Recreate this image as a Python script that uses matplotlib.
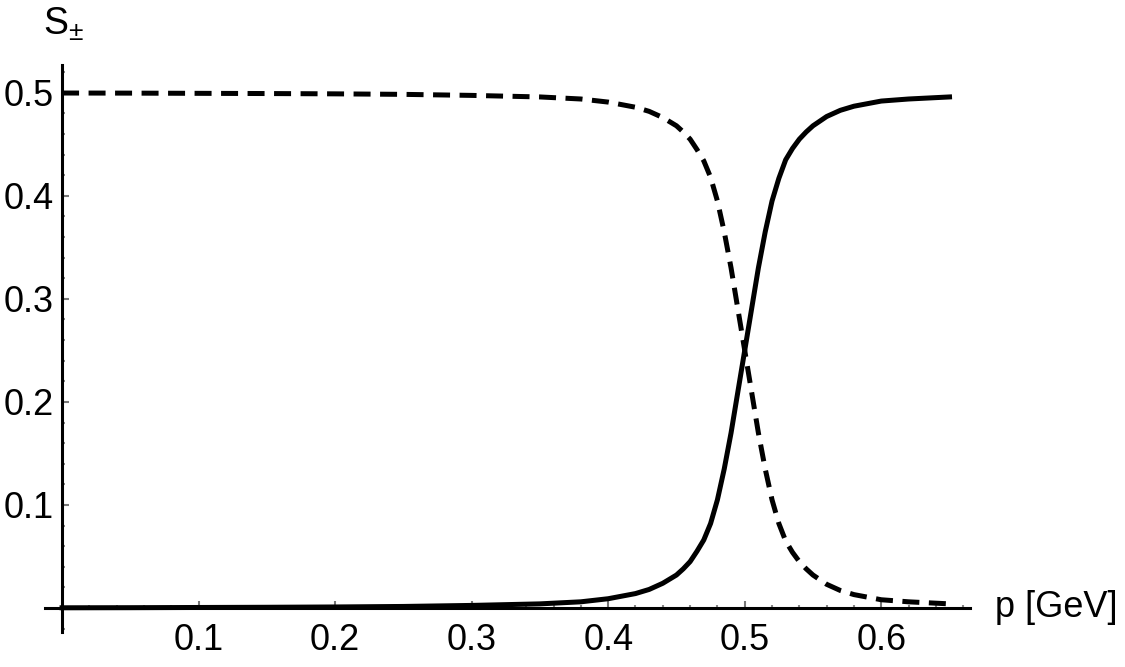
import numpy as np
import matplotlib.pyplot as plt
from matplotlib.ticker import MultipleLocator

plt.rcParams['font.family'] = ['Liberation Sans', 'DejaVu Sans']
plt.rcParams['mathtext.fontset'] = 'custom'
plt.rcParams['mathtext.rm'] = 'Liberation Sans'
plt.rcParams['mathtext.it'] = 'Liberation Sans:italic'

# momentum grid [GeV] and the two curves
p = [0.0, 0.05, 0.1, 0.15, 0.2, 0.25, 0.3, 0.35, 0.38, 0.40, 0.42, 0.43,
     0.44, 0.45, 0.455, 0.46, 0.465, 0.47, 0.475, 0.48, 0.485, 0.49, 0.495,
     0.50, 0.505, 0.51, 0.515, 0.52, 0.525, 0.53, 0.535, 0.54, 0.545, 0.55,
     0.56, 0.57, 0.58, 0.60, 0.62, 0.65]
s_plus = [0.0002, 0.0003, 0.0005, 0.0007, 0.001, 0.0015, 0.0025, 0.004,
          0.006, 0.009, 0.014, 0.018, 0.024, 0.032, 0.038, 0.045, 0.055,
          0.066, 0.082, 0.105, 0.135, 0.17, 0.21, 0.25, 0.29, 0.33, 0.365,
          0.395, 0.417, 0.435, 0.446, 0.455, 0.462, 0.468, 0.477, 0.483,
          0.487, 0.492, 0.494, 0.496]
s_minus = [0.4998, 0.4997, 0.4995, 0.4993, 0.499, 0.4985, 0.4975, 0.496,
           0.494, 0.491, 0.486, 0.482, 0.476, 0.468, 0.462, 0.455, 0.445,
           0.434, 0.418, 0.395, 0.365, 0.33, 0.29, 0.25, 0.21, 0.17, 0.135,
           0.105, 0.082, 0.065, 0.054, 0.045, 0.038, 0.032, 0.023, 0.017,
           0.013, 0.008, 0.006, 0.004]

fig = plt.figure(figsize=(11.25, 6.67), dpi=100)
ax = fig.add_axes([45 / 1125, 1 - 632 / 667, 925 / 1125, 567 / 667])

ax.plot(p, s_plus, color='black', lw=3.6, solid_joinstyle='round')
ax.plot(p, s_minus, color='black', lw=3.6, dashes=(3.4, 1.9))

ax.set_xlim(-0.0125, 0.665)
ax.set_ylim(-0.0233, 0.527)

# axes through the origin, Mathematica style
for side in ['top', 'right']:
    ax.spines[side].set_visible(False)
ax.spines['left'].set_position(('data', 0))
ax.spines['bottom'].set_position(('data', 0))
ax.spines['left'].set_linewidth(2.2)
ax.spines['bottom'].set_linewidth(2.2)

ax.set_xticks([0.1, 0.2, 0.3, 0.4, 0.5, 0.6])
ax.set_yticks([0.1, 0.2, 0.3, 0.4, 0.5])
ax.xaxis.set_minor_locator(MultipleLocator(0.02))
ax.yaxis.set_minor_locator(MultipleLocator(0.02))
ax.tick_params(which='major', direction='in', length=5, width=1.5,
               color='#777777', labelsize=26)
ax.tick_params(which='minor', direction='in', length=2.5, width=1.5,
               color='#888888')
ax.tick_params(axis='x', which='major', pad=11)
ax.tick_params(axis='y', which='major', pad=6)

ax.text(1.027, 0.0233 / 0.5503, 'p [GeV]', transform=ax.transAxes,
        fontsize=26, ha='left', va='center')
fig.text(0.038, 0.935, r'$\mathregular{S_{\pm}}$', fontsize=27, ha='left',
         va='bottom')

fig.savefig('out.png', dpi=100)
